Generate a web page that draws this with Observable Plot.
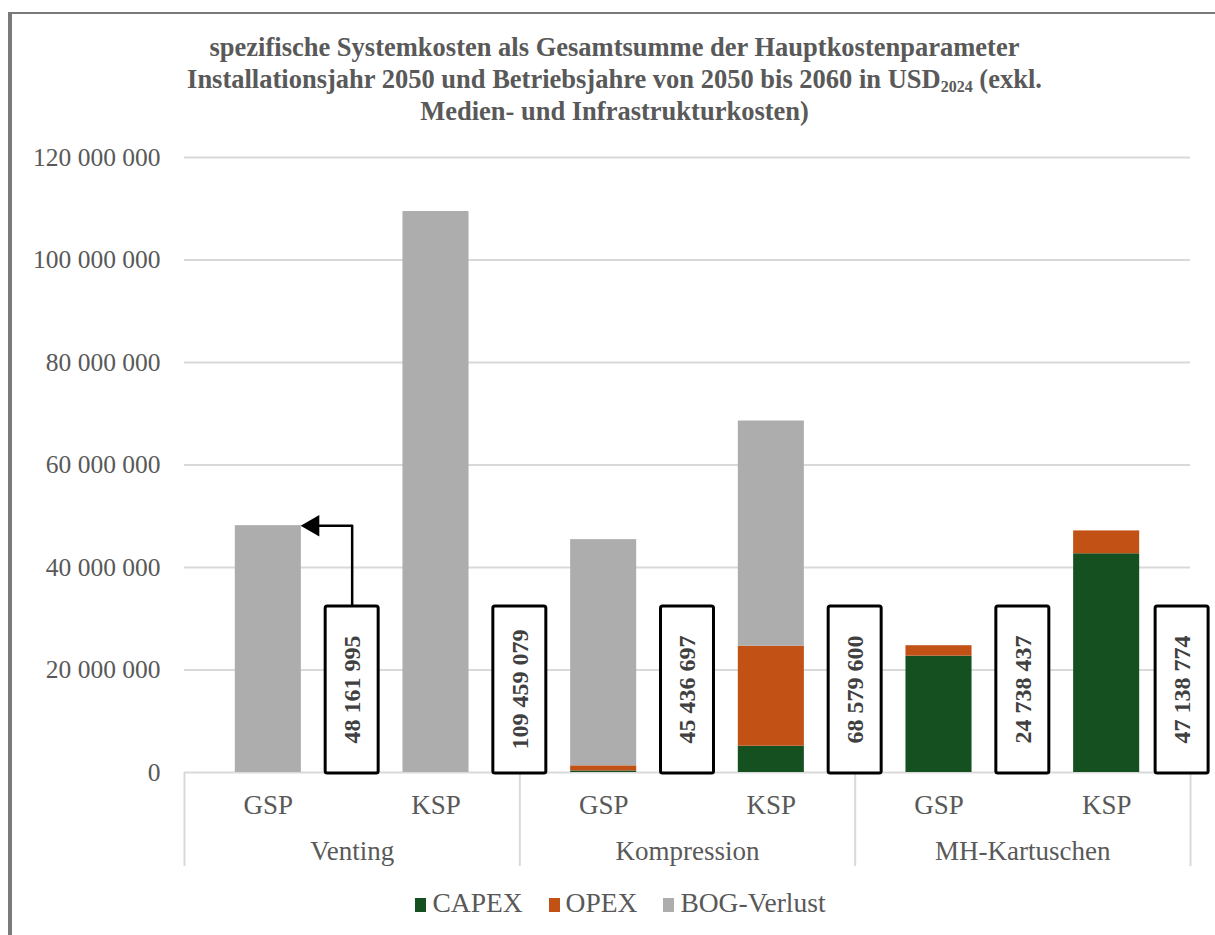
<!DOCTYPE html>
<html lang="de">
<head>
<meta charset="utf-8">
<script src="https://cdn.jsdelivr.net/npm/d3@7"></script>
<script src="https://cdn.jsdelivr.net/npm/@observablehq/plot@0.6"></script>
<style>
  html, body { margin: 0; padding: 0; background: #fff; }
  #page { position: relative; width: 1215px; height: 935px; overflow: hidden; font-family: "Liberation Serif", "Times New Roman", serif; }
  #frame { position: absolute; left: 8px; top: 12px; width: 1300px; height: 1000px; border-left: 4px solid #7a7a7a; border-top: 2.5px solid #7a7a7a; box-sizing: border-box; }
  #title { position: absolute; left: 10px; width: 1209px; top: 31px; text-align: center; font-weight: bold; font-size: 26.5px; line-height: 32px; color: #595959; }
  #title sub { font-size: 16px; vertical-align: -4px; line-height: 0; }
  #chart { position: absolute; left: 0; top: 140px; }
  #legend { position: absolute; left: 0; width: 1241px; top: 887px; text-align: center; font-size: 27.5px; color: #595959; }
  #legend .item { display: inline-block; margin: 0 13px; }
  #legend .sw { display: inline-block; width: 11px; height: 14px; margin-right: 6px; vertical-align: 0px; }
</style>
</head>
<body>
<div id="page">
  <div id="frame"></div>
  <div id="title">spezifische Systemkosten als Gesamtsumme der Hauptkostenparameter<br>Installationsjahr 2050 und Betriebsjahre von 2050 bis 2060 in USD<sub>2024</sub> (exkl.<br>Medien- und Infrastrukturkosten)</div>
  <div id="chart"></div>
  <div id="legend"></div>
</div>
<script>
// Storage concepts (groups) and system variants per group
const groups = ["Venting", "Kompression", "MH-Kartuschen"];
const variants = ["GSP", "KSP"];

// Cost components, bottom to top in each stack
const components = ["CAPEX", "OPEX", "BOG-Verlust"];
const componentColors = ["#155020", "#c25116", "#adadad"];

// Values in USD (2024), one entry per bar: Venting GSP/KSP, Kompression GSP/KSP, MH GSP/KSP
const capex = [0, 0, 300000, 5130000, 22700000, 42680000];
const opex = [0, 0, 1000000, 19520000, 2038437, 4458774];
const bogVerlust = [48161995, 109459079, 44136697, 43929600, 0, 0];

// Totals shown in the label boxes
const totals = [48161995, 109459079, 45436697, 68579600, 24738437, 47138774];

// y axis ticks
const yTicks = [0, 20000000, 40000000, 60000000, 80000000, 100000000, 120000000];

const fmt = v => d3.format(",")(v).replace(/,/g, " ");
const serif = '"Liberation Serif", "Times New Roman", serif';

// one slot per bar, slot i spans [i, i+1] on the x scale
const nSlots = groups.length * variants.length;
const slotLabels = d3.range(nSlots).map(i => variants[i % variants.length]);
const series = {"CAPEX": capex, "OPEX": opex, "BOG-Verlust": bogVerlust};

// stacked segments
const segments = [];
for (let i = 0; i < nSlots; i++) {
  let acc = 0;
  for (const c of components) {
    const v = series[c][i];
    segments.push({slot: i, component: c, y1: acc, y2: acc + v});
    acc += v;
  }
}

const barHalf = 0.197;   // half bar width, in slots
const boxHalf = 0.158;   // half label box width, in slots
const boxTop = 32400000; // label box height on the value axis

// label boxes sit on the right-hand slot boundary, kept inside the chart area
const labels = totals.map((t, i) => ({slot: i, total: t, pos: Math.min(i + 1, nSlots - 0.05)}));

// leader from the first label box to the top of its bar
const leader = [
  {x: labels[0].pos, y: boxTop},
  {x: labels[0].pos, y: totals[0]},
  {x: 0.5 + barHalf + 0.07, y: totals[0]}
];

const plot = Plot.plot({
  width: 1215,
  height: 745,
  marginTop: 17,
  marginBottom: 113,
  marginLeft: 184,
  marginRight: 25,
  style: {fontFamily: serif, background: "transparent", overflow: "visible"},
  x: {domain: [0, nSlots], axis: null},
  y: {domain: [0, 120000000], axis: null},
  color: {domain: components, range: componentColors},
  marks: [
    Plot.gridY(yTicks, {stroke: "#d9d9d9", strokeOpacity: 1, strokeWidth: 2}),
    Plot.axisY({ticks: yTicks, tickFormat: fmt, tickSize: 0, tickPadding: 24, fontSize: 25.5, fill: "#595959", label: null}),
    // group separators below the axis
    Plot.axisX({ticks: d3.range(0, nSlots + 1, variants.length), tickSize: 94, stroke: "#d9d9d9", strokeWidth: 2, tickFormat: () => "", label: null}),
    // variant labels
    Plot.axisX({ticks: d3.range(nSlots).map(i => i + 0.5), tickFormat: (d) => slotLabels[Math.floor(d)], tickSize: 0, tickPadding: 22, fontSize: 27, fill: "#595959", label: null}),
    // group labels
    Plot.axisX({ticks: groups.map((g, k) => k * variants.length + variants.length / 2), tickFormat: (d) => groups[Math.floor(d / variants.length)], tickSize: 0, tickPadding: 68, fontSize: 27, fill: "#595959", label: null}),
    Plot.rect(segments, {x1: d => d.slot + 0.5 - barHalf, x2: d => d.slot + 0.5 + barHalf, y1: "y1", y2: "y2", fill: "component"}),
    Plot.line(leader, {x: "x", y: "y", stroke: "#000", strokeWidth: 2.5, curve: "linear"}),
    Plot.dot([leader[2]], {x: "x", y: "y", symbol: "triangle", rotate: -90, r: 8, fill: "#000", stroke: "none", dx: 0}),
    Plot.rect(labels, {x1: d => d.pos - boxHalf, x2: d => d.pos + boxHalf, y1: -200000, y2: boxTop, fill: "#fff", stroke: "#000", strokeWidth: 3, rx: 2}),
    Plot.text(labels, {x: "pos", y: boxTop / 2, text: d => fmt(d.total), rotate: -90, fontSize: 24, fontWeight: "bold", fill: "#404040", fontFamily: serif})
  ]
});
document.getElementById("chart").appendChild(plot);

// legend
const color = plot.scale("color");
const legend = document.getElementById("legend");
color.domain.forEach((c, i) => {
  const item = document.createElement("span");
  item.className = "item";
  const sw = document.createElement("span");
  sw.className = "sw";
  sw.style.background = color.range[i];
  item.appendChild(sw);
  item.appendChild(document.createTextNode(c));
  legend.appendChild(item);
});
</script>
</body>
</html>
